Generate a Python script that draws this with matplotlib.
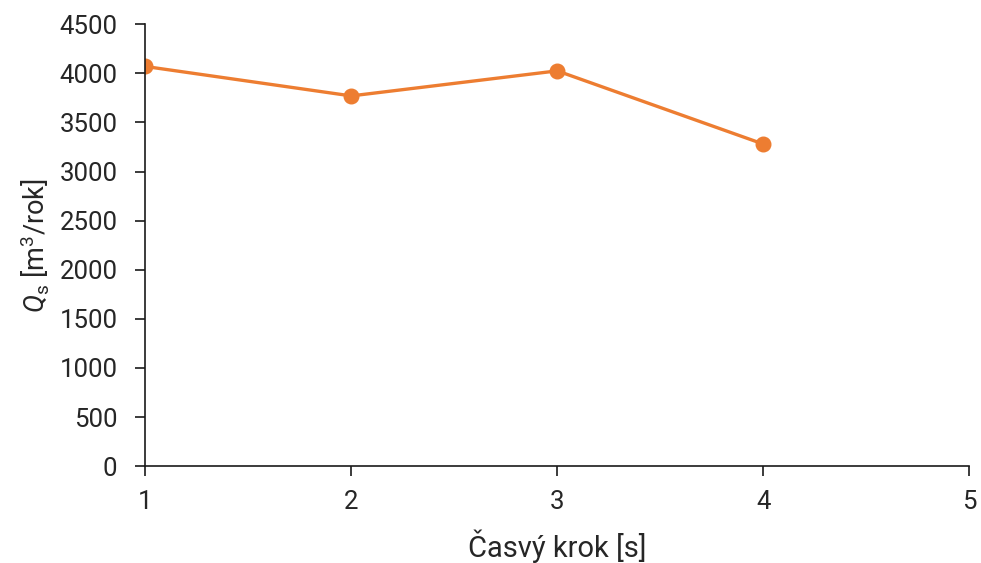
import matplotlib
matplotlib.use('Agg')
import matplotlib.pyplot as plt

# data
steps = [1, 2, 3, 4]
q_s = [4070, 3770, 4025, 3280]
x_ticks = [1, 2, 3, 4, 5]
y_ticks = list(range(0, 4501, 500))

plt.rcParams['font.family'] = ['Roboto', 'DejaVu Sans']
plt.rcParams['mathtext.fontset'] = 'custom'
plt.rcParams['mathtext.rm'] = 'Roboto'
plt.rcParams['mathtext.it'] = 'Roboto:italic'

txt_col = '#262626'

fig = plt.figure(figsize=(9.81, 5.63), dpi=100, facecolor='w')
ax = fig.add_axes([0.148, 0.172, 0.84, 0.785])

ax.plot(steps, q_s, color='#ED7D31', linewidth=2.4, marker='o', markersize=10.5)

ax.set_xlim(1, 5)
ax.set_ylim(0, 4500)
ax.set_xticks(x_ticks)
ax.set_yticks(y_ticks)

for side in ['top', 'right']:
    ax.spines[side].set_visible(False)
for side in ['left', 'bottom']:
    ax.spines[side].set_linewidth(1.2)
    ax.spines[side].set_color('#1a1a1a')

ax.tick_params(axis='both', direction='out', length=7, width=1.2, color='#1a1a1a',
               labelsize=18.5, labelcolor=txt_col)
ax.tick_params(axis='x', pad=10)
ax.tick_params(axis='y', pad=13)

ax.set_xlabel('Časvý krok [s]', fontsize=21, color=txt_col, labelpad=11)
ax.set_ylabel(r'$\mathit{Q}_\mathregular{s}$ [m$^3$/rok]', fontsize=19.5, color=txt_col, labelpad=6)

fig.savefig('out.png', dpi=100, facecolor='w')
